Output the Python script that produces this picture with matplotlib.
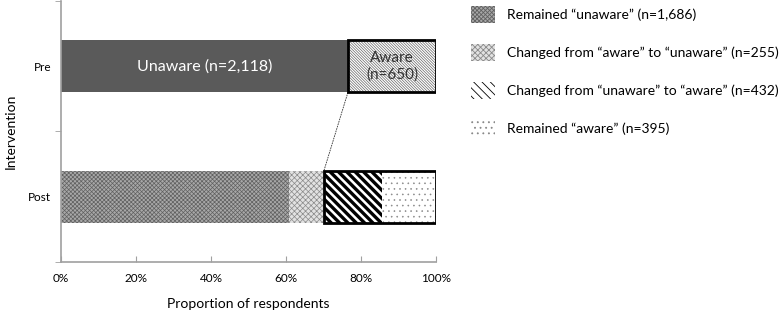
import matplotlib.pyplot as plt
from matplotlib.patches import Patch, Rectangle

plt.rcParams['font.family'] = ['Lato', 'DejaVu Sans']

categories = ['Pre', 'Post']
pre_counts = [2118, 650]
pre_labels = ['Unaware (n=2,118)', 'Aware\n(n=650)']
post_counts = [1686, 255, 432, 395]
post_labels = ['Remained \u201cunaware\u201d (n=1,686)',
               'Changed from \u201caware\u201d to \u201cunaware\u201d (n=255)',
               'Changed from \u201cunaware\u201d to \u201caware\u201d (n=432)',
               'Remained \u201caware\u201d (n=395)']
xticks = [0, 20, 40, 60, 80, 100]

# styles for post segments
post_styles = [
    dict(facecolor='#a8a8a8', hatch='xxxxxxxx', edgecolor='#606060', hlw=0.5),
    dict(facecolor='#e2e2e2', hatch='xxxxxx', edgecolor='#8a8a8a', hlw=0.5),
    dict(facecolor='white', hatch='\\\\\\\\', edgecolor='black', hlw=2.4),
    dict(facecolor='white', hatch='...', edgecolor='#888888', hlw=0.4),
]

fig = plt.figure(figsize=(7.79, 3.15), dpi=100)
ax = fig.add_axes([61 / 779, 1 - 262 / 315, 375 / 779, 262 / 315 - 0.003])

bh = 0.4
ypos = {'Pre': 1, 'Post': 0}


def hbar(y, left, width, fc, hatch=None, ec='none', hlw=1.0):
    bars = ax.barh(y, width, left=left, height=bh, color=fc, hatch=hatch,
                   edgecolor=ec, linewidth=0)
    for b in bars:
        if hasattr(b, 'set_hatch_linewidth'):
            b.set_hatch_linewidth(hlw)
    return bars


pre_total = sum(pre_counts)
pre_pct = [c / pre_total * 100 for c in pre_counts]
post_total = sum(post_counts)
post_pct = [c / post_total * 100 for c in post_counts]

# Pre bar
plt.rcParams['hatch.linewidth'] = 0.6
hbar(ypos['Pre'], 0, pre_pct[0], '#5a5a5a')
hbar(ypos['Pre'], pre_pct[0], pre_pct[1], 'white', hatch='\\' * 12,
     ec='#666666', hlw=0.5)
ax.add_patch(Rectangle((pre_pct[0], ypos['Pre'] - bh / 2), pre_pct[1], bh,
                       fill=False, edgecolor='black', linewidth=2, zorder=3))
ax.text(pre_pct[0] / 2, ypos['Pre'], pre_labels[0], color='white',
        ha='center', va='center', fontsize=11.5)
ax.text(pre_pct[0] + pre_pct[1] / 2, ypos['Pre'], pre_labels[1], color='#333333',
        ha='center', va='center', fontsize=11, linespacing=1.15)

# Post bar
left = 0
handles = []
for pct, st, lab in zip(post_pct, post_styles, post_labels):
    hbar(ypos['Post'], left, pct, st['facecolor'], hatch=st['hatch'],
         ec=st['edgecolor'], hlw=st['hlw'])
    h = Patch(facecolor=st['facecolor'], hatch=st['hatch'], edgecolor=st['edgecolor'],
              linewidth=0, label=lab)
    if hasattr(h, 'set_hatch_linewidth'):
        h.set_hatch_linewidth(st['hlw'])
    handles.append(h)
    left += pct

aware_start = post_pct[0] + post_pct[1]
ax.add_patch(Rectangle((aware_start, ypos['Post'] - bh / 2), 100 - aware_start, bh,
                       fill=False, edgecolor='black', linewidth=2, zorder=3))

# connector line
ax.plot([pre_pct[0], aware_start], [ypos['Pre'] - bh / 2, ypos['Post'] + bh / 2],
        color='#333333', linewidth=0.6, linestyle=(0, (2, 1)))

ax.set_xlim(0, 100)
ax.set_ylim(-0.5, 1.5)
ax.set_xticks(xticks)
ax.set_xticklabels([f'{t}%' for t in xticks], fontsize=8.5)
ax.set_yticks([ypos[c] for c in categories])
ax.set_yticklabels(categories, fontsize=8.5)
ax.set_yticks([-0.5, 0.5, 1.5], minor=True)
ax.tick_params(axis='y', which='major', length=0, pad=7)
ax.tick_params(axis='y', which='minor', length=4, color='#a0a0a0')
ax.tick_params(axis='x', length=4, color='#a0a0a0', direction='in', pad=8)
for s in ['top', 'right']:
    ax.spines[s].set_visible(False)
for s in ['left', 'bottom']:
    ax.spines[s].set_color('#a0a0a0')
    ax.spines[s].set_linewidth(1.2)
ax.set_xlabel('Proportion of respondents', fontsize=10, labelpad=10)
ax.set_ylabel('Intervention', fontsize=10, labelpad=8)

fig.legend(handles=handles, loc='upper left', bbox_to_anchor=(465 / 779, 1.0),
           frameon=False, fontsize=10, handlelength=1.75, handleheight=1.6,
           labelspacing=1.45, handletextpad=0.9, borderaxespad=0)

fig.savefig('out.png', dpi=100)
